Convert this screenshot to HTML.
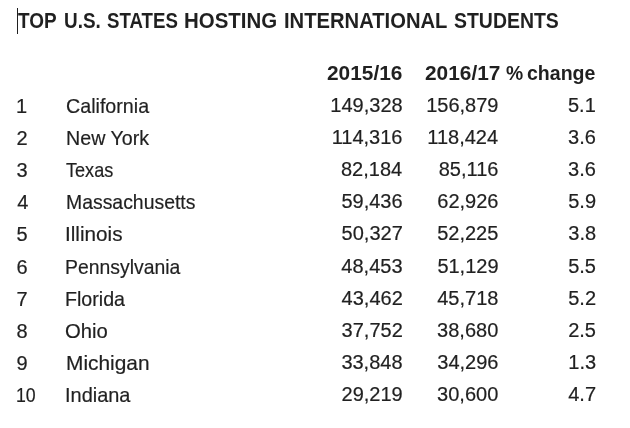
<!DOCTYPE html>
<html><head><meta charset="utf-8"><style>
html,body{margin:0;padding:0;background:#fff;width:630px;height:428px;overflow:hidden}
body{position:relative;font-family:"Liberation Sans",sans-serif;color:#231f20}
div{position:absolute;white-space:nowrap;line-height:normal;transform-origin:0 0;filter:grayscale(1)}
.t{font-weight:bold;font-size:21.5px;color:#231f20}
.h{font-weight:bold;font-size:21.0px;color:#231f20}
.c{font-size:20.0px;-webkit-text-stroke:0.2px #231f20}
.s{font-size:21.0px;-webkit-text-stroke:0.2px #231f20}
.cur{left:17px;top:8px;width:1px;height:26px;background:#231f20}
</style></head><body>
<div class="cur"></div>
<div id="e0" class="t" style="left:17.65px;top:9.00px;transform:scaleX(0.8823)">TOP</div>
<div id="e1" class="t" style="left:64.17px;top:9.00px;transform:scaleX(0.8791)">U.S.</div>
<div id="e2" class="t" style="left:106.81px;top:9.00px;transform:scaleX(0.8684)">STATES</div>
<div id="e3" class="t" style="left:184.36px;top:9.00px;transform:scaleX(0.9510)">HOSTING</div>
<div id="e4" class="t" style="left:283.57px;top:9.00px;transform:scaleX(0.9394)">INTERNATIONAL</div>
<div id="e5" class="t" style="left:453.83px;top:9.00px;transform:scaleX(0.9046)">STUDENTS</div>
<div id="e6" class="h" style="left:327.46px;top:61.00px;transform:scaleX(0.9931)">2015/16</div>
<div id="e7" class="h" style="left:424.64px;top:61.00px;transform:scaleX(0.9930)">2016/17</div>
<div id="e8" class="h" style="left:505.60px;top:61.00px;transform:scaleX(0.9197)">%</div>
<div id="e9" class="h" style="left:527.03px;top:61.00px;transform:scaleX(0.9293)">change</div>
<div id="e10" class="c" style="left:16.02px;top:95.00px;transform:scaleX(1.0000)">1</div>
<div id="e11" class="s" style="left:66.14px;top:94.00px;transform:scaleX(0.9368)">California</div>
<div id="e12" class="c" style="left:330.37px;top:94.00px;transform:scaleX(1.0000)">149,328</div>
<div id="e13" class="c" style="left:426.20px;top:94.00px;transform:scaleX(1.0000)">156,879</div>
<div id="e14" class="c" style="left:568.00px;top:94.00px;transform:scaleX(1.0000)">5.1</div>
<div id="e15" class="c" style="left:16.55px;top:127.00px;transform:scaleX(1.0000)">2</div>
<div id="e16" class="s" style="left:66.25px;top:126.00px;transform:scaleX(0.9364)">New York</div>
<div id="e17" class="c" style="left:331.65px;top:126.00px;transform:scaleX(1.0000)">114,316</div>
<div id="e18" class="c" style="left:427.31px;top:126.00px;transform:scaleX(1.0000)">118,424</div>
<div id="e19" class="c" style="left:568.12px;top:126.00px;transform:scaleX(1.0000)">3.6</div>
<div id="e20" class="c" style="left:16.51px;top:159.00px;transform:scaleX(1.0000)">3</div>
<div id="e21" class="s" style="left:65.95px;top:158.00px;transform:scaleX(0.8616)">Texas</div>
<div id="e22" class="c" style="left:341.01px;top:158.00px;transform:scaleX(1.0000)">82,184</div>
<div id="e23" class="c" style="left:438.71px;top:158.00px;transform:scaleX(1.0000)">85,116</div>
<div id="e24" class="c" style="left:568.12px;top:158.00px;transform:scaleX(1.0000)">3.6</div>
<div id="e25" class="c" style="left:17.14px;top:191.00px;transform:scaleX(1.0000)">4</div>
<div id="e26" class="s" style="left:65.72px;top:190.00px;transform:scaleX(0.9241)">Massachusetts</div>
<div id="e27" class="c" style="left:341.44px;top:190.00px;transform:scaleX(1.0000)">59,436</div>
<div id="e28" class="c" style="left:437.32px;top:190.00px;transform:scaleX(1.0000)">62,926</div>
<div id="e29" class="c" style="left:568.21px;top:190.00px;transform:scaleX(1.0000)">5.9</div>
<div id="e30" class="c" style="left:16.38px;top:223.00px;transform:scaleX(1.0000)">5</div>
<div id="e31" class="s" style="left:65.17px;top:222.00px;transform:scaleX(0.9849)">Illinois</div>
<div id="e32" class="c" style="left:341.58px;top:222.00px;transform:scaleX(1.0000)">50,327</div>
<div id="e33" class="c" style="left:437.18px;top:222.00px;transform:scaleX(1.0000)">52,225</div>
<div id="e34" class="c" style="left:568.27px;top:222.00px;transform:scaleX(1.0000)">3.8</div>
<div id="e35" class="c" style="left:16.49px;top:256.00px;transform:scaleX(1.0000)">6</div>
<div id="e36" class="s" style="left:65.29px;top:255.00px;transform:scaleX(0.9230)">Pennsylvania</div>
<div id="e37" class="c" style="left:341.37px;top:255.00px;transform:scaleX(1.0000)">48,453</div>
<div id="e38" class="c" style="left:437.39px;top:255.00px;transform:scaleX(1.0000)">51,129</div>
<div id="e39" class="c" style="left:568.16px;top:255.00px;transform:scaleX(1.0000)">5.5</div>
<div id="e40" class="c" style="left:16.42px;top:288.00px;transform:scaleX(1.0000)">7</div>
<div id="e41" class="s" style="left:65.22px;top:287.00px;transform:scaleX(0.9351)">Florida</div>
<div id="e42" class="c" style="left:341.58px;top:287.00px;transform:scaleX(1.0000)">43,462</div>
<div id="e43" class="c" style="left:437.25px;top:287.00px;transform:scaleX(1.0000)">45,718</div>
<div id="e44" class="c" style="left:568.25px;top:287.00px;transform:scaleX(1.0000)">5.2</div>
<div id="e45" class="c" style="left:16.55px;top:320.00px;transform:scaleX(1.0000)">8</div>
<div id="e46" class="s" style="left:65.42px;top:319.00px;transform:scaleX(0.9661)">Ohio</div>
<div id="e47" class="c" style="left:341.58px;top:319.00px;transform:scaleX(1.0000)">37,752</div>
<div id="e48" class="c" style="left:437.10px;top:319.00px;transform:scaleX(1.0000)">38,680</div>
<div id="e49" class="c" style="left:568.16px;top:319.00px;transform:scaleX(1.0000)">2.5</div>
<div id="e50" class="c" style="left:16.39px;top:352.00px;transform:scaleX(1.0000)">9</div>
<div id="e51" class="s" style="left:65.61px;top:351.00px;transform:scaleX(0.9941)">Michigan</div>
<div id="e52" class="c" style="left:341.39px;top:351.00px;transform:scaleX(1.0000)">33,848</div>
<div id="e53" class="c" style="left:437.32px;top:351.00px;transform:scaleX(1.0000)">34,296</div>
<div id="e54" class="c" style="left:568.27px;top:351.00px;transform:scaleX(1.0000)">1.3</div>
<div id="e55" class="c" style="left:16.48px;top:384.00px;transform:scaleX(0.8866)">10</div>
<div id="e56" class="s" style="left:64.91px;top:383.00px;transform:scaleX(0.9501)">Indiana</div>
<div id="e57" class="c" style="left:341.52px;top:383.00px;transform:scaleX(1.0000)">29,219</div>
<div id="e58" class="c" style="left:437.10px;top:383.00px;transform:scaleX(1.0000)">30,600</div>
<div id="e59" class="c" style="left:568.25px;top:383.00px;transform:scaleX(1.0000)">4.7</div>
</body></html>
